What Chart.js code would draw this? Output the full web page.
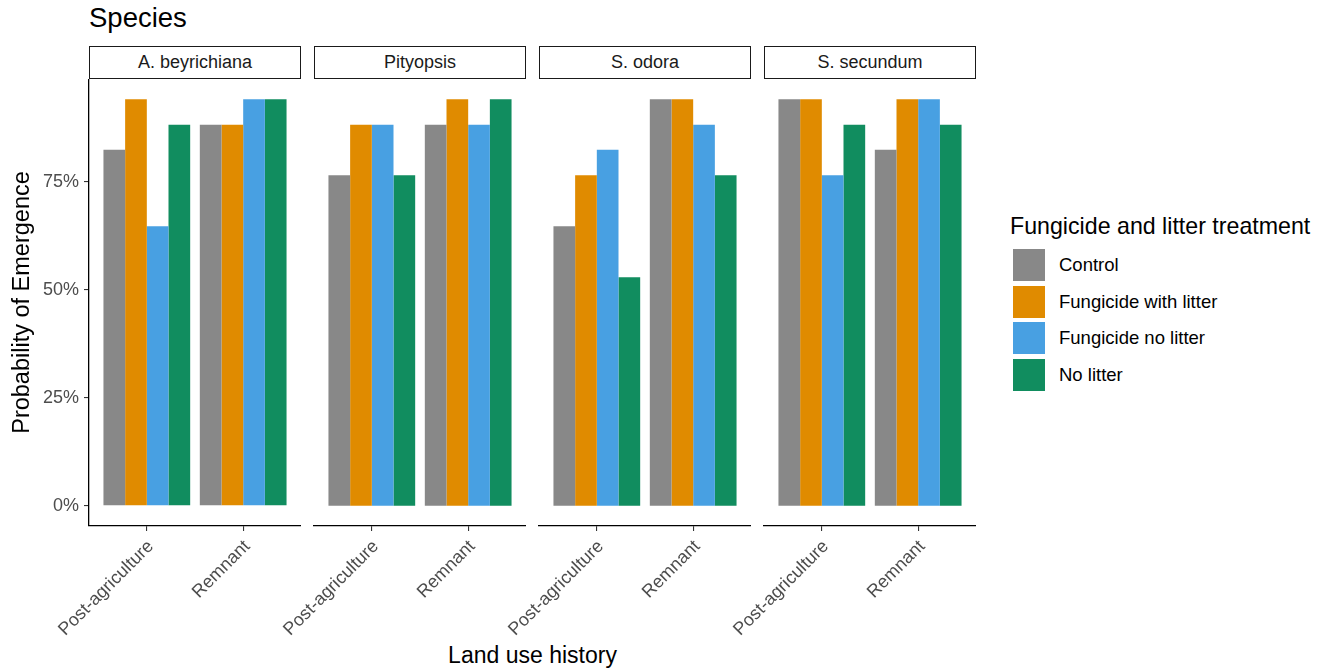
<!DOCTYPE html>
<html>
<head>
<meta charset="utf-8">
<script src="https://cdn.jsdelivr.net/npm/chart.js@4/dist/chart.umd.min.js"></script>
<style>
  html, body { margin: 0; padding: 0; background: #ffffff; }
  body { font-family: "Liberation Sans", Arial, Helvetica, sans-serif; }
  #page { position: relative; width: 1330px; height: 672px; overflow: hidden; background: #fff; }
  .panel { position: absolute; top: 79px; width: 301px; height: 593px; }
  .strip { position: absolute; top: 46px; width: 212px; height: 33px; box-sizing: border-box;
           border: 1.6px solid #1a1a1a; background: #fff; color: #1a1a1a; font-size: 18px;
           display: flex; align-items: center; justify-content: center; }
  #title { position: absolute; left: 89px; top: 4px; font-size: 27.5px; line-height: 27px; color: #000; }
  #xtitle { position: absolute; left: 89px; width: 887px; top: 644px; text-align: center; font-size: 23px; line-height: 23px; color: #000; }
  #legend { position: absolute; left: 1010px; top: 210px; }
  #legend .ltitle { font-size: 23.2px; color: #000; height: 32px; line-height: 32px; white-space: nowrap; }
  #legend .row { position: relative; height: 36.7px; }
  #legend .key { position: absolute; left: 2px; top: 6px; width: 34px; height: 34px; box-sizing: border-box; border: 1.5px solid #fff; }
  #legend .lab { position: absolute; left: 49px; top: 6px; height: 34px; line-height: 34px; font-size: 18.5px; color: #000; white-space: nowrap; }
</style>
</head>
<body>
<div id="page">
  <div id="title">Species</div>
  <div id="xtitle">Land use history</div>
  <div id="legend"></div>
</div>
<script>
// Facets, x categories and fill groups
const species = ['A. beyrichiana', 'Pityopsis', 'S. odora', 'S. secundum'];
const landUse = ['Post-agriculture', 'Remnant'];
const treatments = ['Control', 'Fungicide with litter', 'Fungicide no litter', 'No litter'];

// Probability of emergence, ordered species by species, Post-agriculture then Remnant
const control             = [0.824, 0.882, 0.765, 0.882, 0.647, 0.941, 0.941, 0.824];
const fungicideWithLitter = [0.941, 0.882, 0.882, 0.941, 0.765, 0.941, 0.941, 0.941];
const fungicideNoLitter   = [0.647, 0.941, 0.882, 0.882, 0.824, 0.882, 0.765, 0.941];
const noLitter            = [0.882, 0.941, 0.765, 0.941, 0.529, 0.765, 0.882, 0.882];

// y axis tick values
const yTicks = [0, 0.25, 0.5, 0.75];

const seriesValues = [control, fungicideWithLitter, fungicideNoLitter, noLitter];
const fillColors = ['#888888', '#E08B00', '#48A0E2', '#118D5F'];

const FONT = '"Liberation Sans", Arial, Helvetica, sans-serif';
const PANEL_LEFT0 = 89, PANEL_W = 212, PANEL_GAP = 13, AXIS_W = 89;
const CANVAS_H = 593, PLOT_H = 447;
const yMax = Math.max(...seriesValues.flat());
const yMin = -0.05 * yMax, yTop = 1.05 * yMax;

const page = document.getElementById('page');

species.forEach((sp, si) => {
  const panelLeft = PANEL_LEFT0 + si * (PANEL_W + PANEL_GAP);

  const strip = document.createElement('div');
  strip.className = 'strip';
  strip.style.left = panelLeft + 'px';
  strip.textContent = sp;
  page.appendChild(strip);

  const wrap = document.createElement('div');
  wrap.className = 'panel';
  wrap.style.left = (panelLeft - AXIS_W) + 'px';
  const cv = document.createElement('canvas');
  cv.width = AXIS_W + PANEL_W;
  cv.height = CANVAS_H;
  wrap.appendChild(cv);
  page.appendChild(wrap);

  const first = si === 0;
  const datasets = treatments.map((t, ti) => ({
    label: t,
    data: landUse.map((lu, li) => ({ x: li, y: seriesValues[ti][si * 2 + li] })),
    backgroundColor: fillColors[ti],
    borderWidth: 0,
    categoryPercentage: 0.9,
    barPercentage: 1.0
  }));

  new Chart(cv, {
    type: 'bar',
    data: { datasets },
    options: {
      responsive: false,
      devicePixelRatio: 1,
      animation: false,
      layout: { padding: 0 },
      plugins: { legend: { display: false }, tooltip: { enabled: false }, title: { display: false } },
      scales: {
        x: {
          type: 'linear',
          min: -0.6,
          max: 1.6,
          offset: false,
          afterBuildTicks: s => { s.ticks = landUse.map((l, i) => ({ value: i })); },
          afterFit: s => { s.height = CANVAS_H - PLOT_H; s.paddingLeft = 0; s.paddingRight = 0; },
          grid: { display: true, offset: false, drawOnChartArea: false, drawTicks: true, tickLength: 5, color: '#333333', lineWidth: 1.1 },
          border: { display: true, color: '#000000', width: 1.3 },
          ticks: {
            autoSkip: false,
            maxRotation: 45,
            minRotation: 45,
            padding: 5,
            labelOffset: 4,
            color: '#4D4D4D',
            font: { family: FONT, size: 18 },
            callback: v => landUse[v]
          }
        },
        y: {
          type: 'linear',
          min: yMin,
          max: yTop,
          afterBuildTicks: s => { s.ticks = yTicks.map(v => ({ value: v })); },
          afterFit: s => { s.width = AXIS_W; s.paddingTop = 0; s.paddingBottom = 0; },
          grid: { display: first, offset: false, drawOnChartArea: false, drawTicks: true, tickLength: 5, color: '#333333', lineWidth: 1.1 },
          border: { display: first, color: '#000000', width: 1.3 },
          ticks: {
            display: first,
            padding: 5,
            color: '#4D4D4D',
            font: { family: FONT, size: 18 },
            callback: v => Math.round(v * 100) + '%'
          },
          title: {
            display: first,
            text: 'Probability of Emergence',
            color: '#000000',
            font: { family: FONT, size: 23.5 },
            padding: { top: 8, bottom: 0 }
          }
        }
      }
    }
  });
});

// Fill legend
const legend = document.getElementById('legend');
const lt = document.createElement('div');
lt.className = 'ltitle';
lt.textContent = 'Fungicide and litter treatment';
legend.appendChild(lt);
treatments.forEach((t, ti) => {
  const row = document.createElement('div');
  row.className = 'row';
  const key = document.createElement('div');
  key.className = 'key';
  key.style.background = fillColors[ti];
  const lab = document.createElement('div');
  lab.className = 'lab';
  lab.textContent = t;
  row.appendChild(key);
  row.appendChild(lab);
  legend.appendChild(row);
});
</script>
</body>
</html>
